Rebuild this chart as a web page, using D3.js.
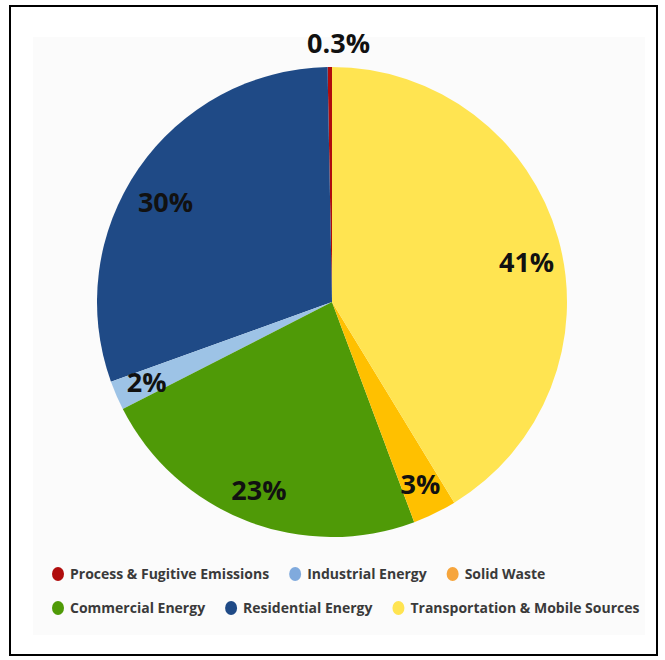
<!DOCTYPE html>
<html lang="en">
<head>
    <style>
        body { margin: 0; background: #fff; }
        .label { font-family: "Open Sans", sans-serif; font-weight: 700; font-size: 27px; fill: #111; }
        .legend text { font-family: "Open Sans", sans-serif; font-weight: 700; font-size: 14px; fill: #3a3a3a; }
    </style>
    <script src="https://d3js.org/d3.v7.min.js"></script>
</head>
<body>
    <svg width="665" height="660"></svg>
    <script>
        // legend order
        var categories = ["Process & Fugitive Emissions", "Industrial Energy", "Solid Waste",
                          "Commercial Energy", "Residential Energy", "Transportation & Mobile Sources"];
        var colors = ["#b00d0d", "#9dc3e6", "#ffc000", "#4f9a07", "#1f4a86", "#ffe451"];
        var legendColors = ["#b00d0d", "#80aadd", "#f6a53c", "#4f9a07", "#1f4a86", "#ffe451"];

        // pie order, counter-clockwise from 12 o'clock
        var sectors = ["Process & Fugitive Emissions", "Residential Energy", "Industrial Energy",
                       "Commercial Energy", "Solid Waste", "Transportation & Mobile Sources"];
        var shares = [0.3, 30, 2, 23, 3, 41];
        var labels = ["0.3%", "30%", "2%", "23%", "3%", "41%"];

        var legendRows = [[0, 1, 2], [3, 4, 5]];

        var svg = d3.select("svg");

        svg.append("rect")
            .attr("x", 33).attr("y", 37)
            .attr("width", 612).attr("height", 598)
            .attr("fill", "#fbfbfb");

        svg.append("rect")
            .attr("x", 10).attr("y", 6)
            .attr("width", 647).attr("height", 649)
            .attr("fill", "none")
            .attr("stroke", "#000")
            .attr("stroke-width", 2);

        var color = d3.scaleOrdinal().domain(categories).range(colors);
        var legendColor = d3.scaleOrdinal().domain(categories).range(legendColors);

        var radius = 235,
            cx = 332,
            cy = 302;

        var pie = d3.pie()
            .sort(null)
            .startAngle(0)
            .endAngle(-2 * Math.PI)
            .value(function(d) { return d.value; });

        var data = sectors.map(function(s, i) {
            return { name: s, value: shares[i], label: labels[i] };
        });

        var arc = d3.arc().innerRadius(0).outerRadius(radius);
        var labelArc = d3.arc().innerRadius(radius * 0.86).outerRadius(radius * 0.86);
        var outerArc = d3.arc().innerRadius(radius + 24).outerRadius(radius + 24);

        var g = svg.append("g")
            .attr("transform", "translate(" + cx + "," + cy + ")");

        var arcs = pie(data);

        g.selectAll(".slice")
            .data(arcs)
            .enter().append("path")
            .attr("class", "slice")
            .attr("d", arc)
            .attr("fill", function(d) { return color(d.data.name); });

        g.selectAll(".label")
            .data(arcs)
            .enter().append("text")
            .attr("class", "label")
            .attr("text-anchor", "middle")
            .attr("dy", "0.36em")
            .attr("transform", function(d) {
                var small = d.data.value < 1;
                var c = small ? outerArc.centroid(d) : labelArc.centroid(d);
                if (small) c[0] += 9;
                // upper labels sit a bit lower in the original
                if (!small && c[1] < 0) c[1] += 15;
                return "translate(" + c[0] + "," + c[1] + ")";
            })
            .text(function(d) { return d.data.label; });

        // legend, flow layout
        var legend = svg.append("g").attr("class", "legend");
        legendRows.forEach(function(row, r) {
            var x = 52,
                y = 574 + r * 34;
            row.forEach(function(idx) {
                var item = legend.append("g").attr("transform", "translate(" + x + "," + y + ")");
                item.append("ellipse")
                    .attr("cx", 6).attr("cy", 0)
                    .attr("rx", 6).attr("ry", 7)
                    .attr("fill", legendColor(categories[idx]));
                var t = item.append("text")
                    .attr("x", 18)
                    .attr("dy", "0.35em")
                    .text(categories[idx]);
                x += 18 + t.node().getComputedTextLength() + 20;
            });
        });
    </script>
</body>
</html>
